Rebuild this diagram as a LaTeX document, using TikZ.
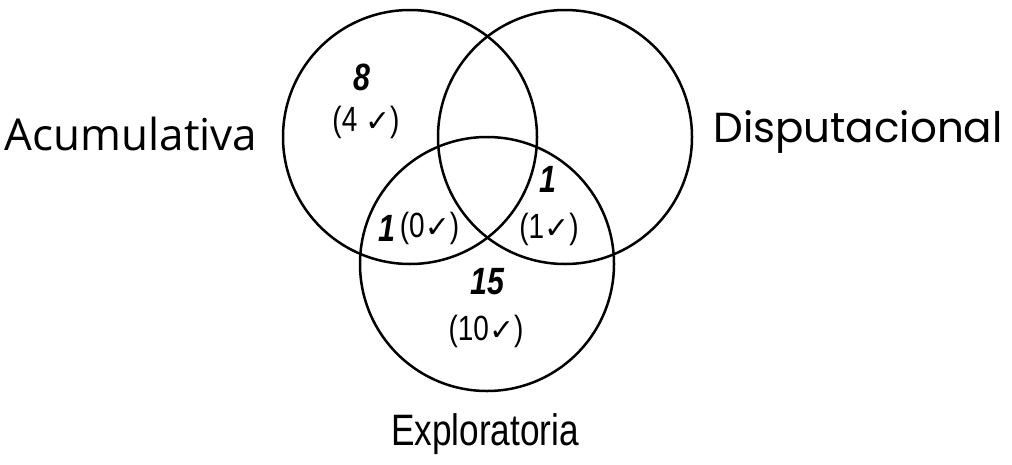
\documentclass[tikz,border=0pt]{standalone}
\usepackage{fontspec}
\setmainfont{Liberation Sans}
\newfontfamily\narrowfont[FakeStretch=0.8]{Liberation Sans}
\newfontfamily\acumfont{Open Sans}
\newfontfamily\dispfont{Poppins}
\newfontfamily\checkfont{DejaVu Sans}
\usetikzlibrary{positioning}
\tikzset{
  venn circle/.style={
    circle,
    draw,
    line width=2.5pt,
    minimum size=254pt,
    inner sep=0pt
  },
  set name/.style={
    inner sep=0pt,
    anchor=base
  },
  count/.style={
    inner sep=0pt,
    font=\narrowfont\fontsize{38}{38}\selectfont\bfseries\itshape
  },
  checks/.style={
    inner sep=0pt,
    font=\narrowfont\fontsize{35}{35}\selectfont
  }
}
\newcommand{\tick}{{\checkfont\bfseries\fontsize{30}{30}\selectfont ✓}}

\begin{document}
\begin{tikzpicture}[x=1pt, y=-1pt]
  \useasboundingbox (0,0) rectangle (1012,464);

  % The three sets
  \node[venn circle] (acum) at (410,137) {};
  \node[venn circle] (disp) at (565,137) {};
  \node[venn circle] (expl) at (487,264) {};

  % Set names
  \node[set name, font=\acumfont\fontsize{44}{44}\selectfont] (acumname) at (131,150) {Acumulativa};
  \node[set name, font=\dispfont\fontsize{42}{42}\selectfont] (dispname) at (858,142) {Disputacional};
  \node[set name, font=\narrowfont\fontsize{44}{44}\selectfont] (explname) at (485,445) {Exploratoria};

  % Only Acumulativa
  \node[count] (acumonly) at (362,77) {8};
  \node[checks] (acumchk) at (366,122) {(4 \tick)};

  % Acumulativa and Exploratoria
  \node[count] (aeonly) at (387,228) {1};
  \node[checks, right=4pt of aeonly] (aechk) {(0\tick)};

  % Disputacional and Exploratoria
  \node[count] (deonly) at (548,179) {1};
  \node[checks] (dechk) at (549,229) {(1\tick)};

  % Only Exploratoria
  \node[count] (explonly) at (487,282) {15};
  \node[checks] (explchk) at (486,331) {(10\tick)};

\end{tikzpicture}
\end{document}
